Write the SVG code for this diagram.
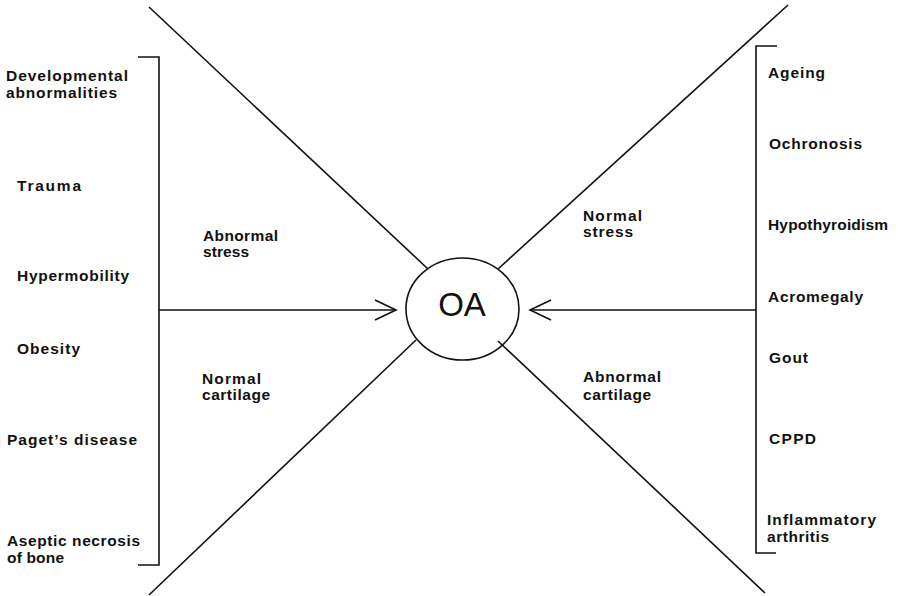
<svg xmlns="http://www.w3.org/2000/svg" width="902" height="596" viewBox="0 0 902 596">
<style>
.t{font-family:"Liberation Sans",Arial,Helvetica,sans-serif;font-weight:bold;font-size:15.5px;fill:#111}
.ln{stroke:#111;stroke-width:1.6;fill:none}
.oa{font-family:"Liberation Sans",Arial,Helvetica,sans-serif;font-size:33px;fill:#111}
</style>
<rect width="902" height="596" fill="#fff"/>
<g id="connectors">
<line class="ln" x1="149" y1="7" x2="428" y2="269"/>
<line class="ln" x1="788" y1="5" x2="498" y2="269"/>
<line class="ln" x1="149" y1="595" x2="416" y2="340"/>
<line class="ln" x1="765" y1="593" x2="498" y2="341"/>
<line class="ln" x1="159" y1="310" x2="396" y2="310"/>
<polyline class="ln" points="375,300 396,310 375,320"/>
<line class="ln" x1="756" y1="310" x2="530" y2="310"/>
<polyline class="ln" points="551,300 530,310 551,320"/>
</g>
<g id="left-bracket">
<polyline class="ln" points="138,57 159,57 159,565 138,565"/>
</g>
<g id="right-bracket">
<polyline class="ln" points="777,46 756,46 756,553 776,553"/>
</g>
<g id="oa">
<ellipse class="ln" cx="462.5" cy="309" rx="56.5" ry="51"/>
<text class="oa" x="462" y="316" text-anchor="middle">OA</text>
</g>
<g id="left-causes">
<text class="t" x="6" y="81" textLength="122">Developmental</text>
<text class="t" x="6" y="98" textLength="111">abnormalities</text>
<text class="t" x="17" y="191" textLength="64">Trauma</text>
<text class="t" x="17" y="281" textLength="112">Hypermobility</text>
<text class="t" x="17" y="354" textLength="63">Obesity</text>
<text class="t" x="7" y="445" textLength="130">Paget’s disease</text>
<text class="t" x="7" y="546" textLength="133">Aseptic necrosis</text>
<text class="t" x="7" y="563" textLength="57">of bone</text>
</g>
<g id="abnormal-stress">
<text class="t" x="203" y="241" textLength="75">Abnormal</text>
<text class="t" x="203" y="257" textLength="46">stress</text>
</g>
<g id="normal-cartilage">
<text class="t" x="202" y="384" textLength="59">Normal</text>
<text class="t" x="202" y="400" textLength="68">cartilage</text>
</g>
<g id="normal-stress">
<text class="t" x="583" y="221" textLength="59">Normal</text>
<text class="t" x="583" y="237" textLength="50">stress</text>
</g>
<g id="abnormal-cartilage">
<text class="t" x="583" y="382" textLength="78">Abnormal</text>
<text class="t" x="583" y="400" textLength="68">cartilage</text>
</g>
<g id="right-causes">
<text class="t" x="768" y="78" textLength="57">Ageing</text>
<text class="t" x="769" y="149" textLength="93">Ochronosis</text>
<text class="t" x="768" y="230" textLength="120">Hypothyroidism</text>
<text class="t" x="768" y="302" textLength="95">Acromegaly</text>
<text class="t" x="769" y="363" textLength="39">Gout</text>
<text class="t" x="769" y="444" textLength="47">CPPD</text>
<text class="t" x="767" y="525" textLength="109">Inflammatory</text>
<text class="t" x="767" y="542" textLength="62">arthritis</text>
</g>
</svg>
